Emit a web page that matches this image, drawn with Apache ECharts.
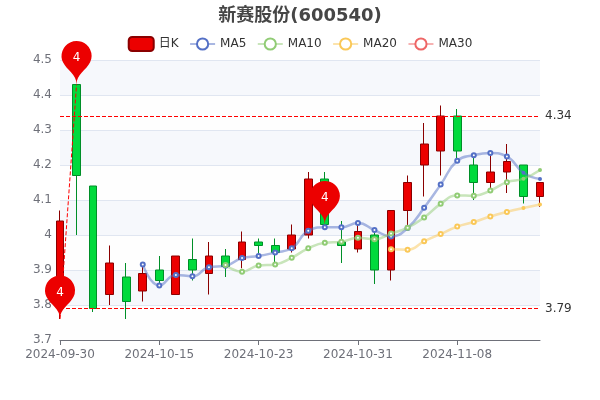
<!DOCTYPE html>
<html lang="zh">
<head>
    <meta charset="UTF-8">
    <title>新赛股份(600540)</title>
    <script src="https://cdn.jsdelivr.net/npm/echarts@6/dist/echarts.min.js"></script>
    <style>
        html, body { margin: 0; padding: 0; background: #fff; }
        #main { width: 600px; height: 400px; }
    </style>
</head>
<body>
<div id="main"></div>
<script type="text/javascript">
    var dates = ['2024-09-30', '2024-10-08', '2024-10-09', '2024-10-10', '2024-10-11', '2024-10-14',
        '2024-10-15', '2024-10-16', '2024-10-17', '2024-10-18', '2024-10-21', '2024-10-22',
        '2024-10-23', '2024-10-24', '2024-10-25', '2024-10-28', '2024-10-29', '2024-10-30',
        '2024-10-31', '2024-11-01', '2024-11-04', '2024-11-05', '2024-11-06', '2024-11-07',
        '2024-11-08', '2024-11-11', '2024-11-12', '2024-11-13', '2024-11-14', '2024-11-15'];

    var opens = [3.86, 4.43, 4.14, 3.83, 3.88, 3.84, 3.90, 3.83, 3.93, 3.89, 3.94, 3.93, 3.98, 3.97, 3.96,
        4.00, 4.16, 3.98, 3.96, 4.00, 3.90, 4.07, 4.20, 4.24, 4.34, 4.20, 4.15, 4.18, 4.20, 4.11];
    var closes = [4.04, 4.17, 3.79, 3.92, 3.81, 3.89, 3.87, 3.94, 3.90, 3.94, 3.91, 3.98, 3.97, 3.95, 4.00,
        4.16, 4.03, 3.97, 4.01, 3.90, 4.07, 4.15, 4.26, 4.34, 4.24, 4.15, 4.18, 4.21, 4.11, 4.15];
    var lows = [3.76, 4.00, 3.78, 3.80, 3.76, 3.81, 3.85, 3.83, 3.87, 3.83, 3.88, 3.905, 3.94, 3.92, 3.95,
        3.99, 4.02, 3.92, 3.95, 3.86, 3.87, 4.02, 4.11, 4.17, 4.21, 4.10, 4.13, 4.12, 4.09, 4.08];
    var highs = [4.07, 4.43, 4.14, 3.97, 3.92, 3.91, 3.94, 3.94, 3.99, 3.98, 3.96, 4.01, 3.99, 3.99, 4.03,
        4.18, 4.18, 4.04, 4.03, 4.01, 4.07, 4.17, 4.32, 4.37, 4.36, 4.23, 4.235, 4.26, 4.20, 4.15];

    var ma5 = ['-', '-', '-', '-', '-', 3.916, 3.856, 3.886, 3.882, 3.908, 3.912, 3.934, 3.94, 3.95, 3.962,
        4.012, 4.022, 4.022, 4.034, 4.014, 3.996, 4.02, 4.078, 4.144, 4.212, 4.228, 4.234, 4.224, 4.178, 4.16];
    var ma10 = ['-', '-', '-', '-', '-', '-', '-', '-', '-', '-', 3.914, 3.895, 3.913, 3.916, 3.935,
        3.962, 3.978, 3.981, 3.992, 3.988, 4.004, 4.021, 4.05, 4.089, 4.113, 4.112, 4.127, 4.151, 4.161, 4.186];
    var ma20 = ['-', '-', '-', '-', '-', '-', '-', '-', '-', '-', '-', '-', '-', '-', '-',
        '-', '-', '-', '-', '-', 3.959, 3.958, 3.982, 4.003, 4.024, 4.037, 4.053, 4.066, 4.077, 4.087];
    var ma30 = dates.map(function () { return '-'; });

    var fontName = '"DejaVu Sans", "Noto Sans CJK SC", sans-serif';

    // echarts wants [open, close, lowest, highest]
    var candles = dates.map(function (d, i) {
        return [opens[i], closes[i], lows[i], highs[i]];
    });

    function maSeries(name, values, color) {
        return {
            name: name,
            type: 'line',
            data: values,
            smooth: true,
            symbol: 'emptyCircle',
            // the last points in the picture are still small dots
            symbolSize: function (v, p) { return p.dataIndex >= 28 ? 2 : 4; },
            showSymbol: true,
            showAllSymbol: true,
            itemStyle: { color: color, borderWidth: 2 },
            lineStyle: { color: color, width: 2.5, opacity: 0.5 }
        };
    }

    var myChart = echarts.init(document.getElementById('main'), null, { renderer: 'canvas' });

    myChart.setOption({
        animation: false,
        backgroundColor: '#fff',
        title: {
            text: '新赛股份(600540)',
            left: 'center',
            top: 2,
            textStyle: { color: '#464646', fontSize: 18, fontWeight: 'bold', fontFamily: fontName }
        },
        legend: {
            data: ['日K', 'MA5', 'MA10', 'MA20', 'MA30'],
            top: 31,
            left: 'center',
            itemGap: 10.5,
            textStyle: { color: '#333', fontSize: 12, fontFamily: fontName }
        },
        grid: { left: 60, right: 60, top: 60, bottom: 60 },
        xAxis: {
            type: 'category',
            data: dates,
            boundaryGap: false,
            axisLine: { onZero: false, lineStyle: { color: '#6E7079' } },
            axisTick: { show: true, interval: 5, length: 5, lineStyle: { color: '#6E7079' } },
            axisLabel: { interval: 5, color: '#6E7079', fontSize: 12, fontFamily: fontName, margin: 9 },
            splitLine: { show: false }
        },
        yAxis: {
            type: 'value',
            scale: true,
            min: 3.7,
            max: 4.5,
            interval: 0.1,
            axisLine: { show: false },
            axisTick: { show: false },
            axisLabel: { color: '#6E7079', fontSize: 12, fontFamily: fontName, margin: 8, padding: [4, 0, 0, 0] },
            splitLine: { show: true, lineStyle: { color: '#E0E6F1', width: 1 } },
            splitArea: { show: true, areaStyle: { color: ['rgba(250,250,250,0.2)', 'rgba(210,219,238,0.2)'] } }
        },
        series: [
            {
                name: '日K',
                type: 'candlestick',
                data: candles,
                itemStyle: {
                    color: '#ec0000',
                    color0: '#00da3c',
                    borderColor: '#8A0000',
                    borderColor0: '#008F28'
                },
                markPoint: {
                    label: {
                        color: '#fff',
                        fontSize: 12,
                        fontFamily: fontName,
                        formatter: function (p) { return Math.round(p.value); }
                    },
                    itemStyle: { color: '#ec0000' },
                    data: [
                        { name: 'highest value', type: 'max', valueDim: 'highest' },
                        { name: 'lowest value', type: 'min', valueDim: 'lowest' },
                        { name: 'average value on close', type: 'average', valueDim: 'close' }
                    ]
                },
                markLine: {
                    symbol: ['none', 'none'],
                    lineStyle: { color: '#f00', type: 'dashed', width: 1 },
                    label: { color: '#333', fontSize: 12, fontFamily: fontName, padding: [4, 0, 0, 0] },
                    precision: 2,
                    data: [
                        [
                            { name: 'from lowest to highest', type: 'min', valueDim: 'lowest', symbol: 'none', label: { show: false } },
                            { type: 'max', valueDim: 'highest', symbol: 'none', label: { show: false } }
                        ],
                        { name: 'min line on close', type: 'min', valueDim: 'close' },
                        { name: 'max line on close', type: 'max', valueDim: 'close' }
                    ]
                }
            },
            maSeries('MA5', ma5, '#5470c6'),
            maSeries('MA10', ma10, '#91cc75'),
            maSeries('MA20', ma20, '#fac858'),
            maSeries('MA30', ma30, '#ee6666')
        ]
    });
</script>
</body>
</html>
